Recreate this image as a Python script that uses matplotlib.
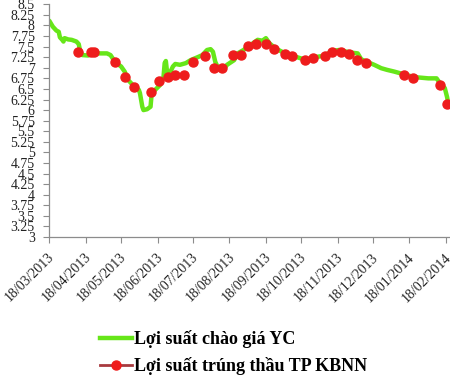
import matplotlib
matplotlib.use("Agg")
import matplotlib.pyplot as plt
import matplotlib.dates as mdates
import matplotlib.transforms as mtransforms
from matplotlib.lines import Line2D
import pandas as pd

# Green series: "Lợi suất chào giá YC"
yc_dates = ["2013-03-18", "2013-03-21", "2013-03-24", "2013-03-26", "2013-03-27", "2013-03-29",
            "2013-03-30", "2013-03-31", "2013-04-03", "2013-04-06", "2013-04-10", "2013-04-12",
            "2013-04-13", "2013-04-15", "2013-04-20", "2013-04-24", "2013-05-06", "2013-05-09",
            "2013-05-13", "2013-05-18", "2013-05-21", "2013-05-24", "2013-05-28", "2013-06-02",
            "2013-06-03", "2013-06-05", "2013-06-06", "2013-06-09", "2013-06-12", "2013-06-13",
            "2013-06-16", "2013-06-20", "2013-06-23", "2013-06-24", "2013-06-25", "2013-06-26",
            "2013-06-28", "2013-07-01", "2013-07-03", "2013-07-07", "2013-07-12", "2013-07-16",
            "2013-07-22", "2013-07-26", "2013-07-30", "2013-08-02", "2013-08-04", "2013-08-06",
            "2013-08-09", "2013-08-12", "2013-08-16", "2013-08-22", "2013-08-25", "2013-08-30",
            "2013-09-05", "2013-09-11", "2013-09-15", "2013-09-18", "2013-09-21", "2013-09-26",
            "2013-10-03", "2013-10-11", "2013-10-18", "2013-10-22", "2013-10-29", "2013-11-06",
            "2013-11-14", "2013-11-19", "2013-11-29", "2013-12-05", "2013-12-08", "2013-12-13",
            "2013-12-19", "2013-12-25", "2013-12-30", "2014-01-05", "2014-01-14", "2014-01-22",
            "2014-02-03", "2014-02-10", "2014-02-13", "2014-02-17", "2014-02-19", "2014-02-20"]
yc_values = [8.11, 7.97, 7.88, 7.85, 7.72, 7.66,
             7.62, 7.70, 7.67, 7.66, 7.62, 7.56,
             7.42, 7.30, 7.29, 7.34, 7.34, 7.30,
             7.13, 7.03, 6.91, 6.71, 6.59, 6.48,
             6.40, 6.08, 6.00, 6.02, 6.08, 6.40,
             6.48, 6.59, 6.78, 7.11, 7.16, 6.91,
             6.85, 7.03, 7.09, 7.07, 7.11, 7.18,
             7.25, 7.30, 7.42, 7.44, 7.38, 7.14,
             6.96, 6.93, 7.07, 7.18, 7.34, 7.42,
             7.54, 7.66, 7.64, 7.70, 7.58, 7.46,
             7.36, 7.28, 7.22, 7.18, 7.25, 7.28,
             7.40, 7.42, 7.36, 7.34, 7.20, 7.14,
             7.07, 6.99, 6.95, 6.91, 6.84, 6.78,
             6.75, 6.75, 6.63, 6.52, 6.30, 6.14]

# Red series: "Lợi suất trúng thầu TP KBNN"
kb_dates = ["2013-04-11", "2013-04-22", "2013-04-25", "2013-05-13", "2013-05-21", "2013-05-29",
            "2013-06-12", "2013-06-19", "2013-06-27", "2013-07-03", "2013-07-10", "2013-07-18",
            "2013-07-28", "2013-08-05", "2013-08-12", "2013-08-21", "2013-08-28", "2013-09-03",
            "2013-09-10", "2013-09-18", "2013-09-25", "2013-10-04", "2013-10-10", "2013-10-21",
            "2013-10-28", "2013-11-07", "2013-11-13", "2013-11-21", "2013-11-28", "2013-12-04",
            "2013-12-12", "2014-01-13", "2014-01-21", "2014-02-13", "2014-02-19"]
kb_values = [7.38, 7.38, 7.38, 7.13, 6.78, 6.55,
             6.42, 6.69, 6.78, 6.84, 6.84, 7.14,
             7.27, 7.00, 7.00, 7.30, 7.30, 7.52,
             7.56, 7.56, 7.45, 7.33, 7.27, 7.18,
             7.24, 7.28, 7.38, 7.37, 7.33, 7.18,
             7.11, 6.84, 6.76, 6.59, 6.14]

tick_dates = ["2013-03-18", "2013-04-18", "2013-05-18", "2013-06-18", "2013-07-18", "2013-08-18",
              "2013-09-18", "2013-10-18", "2013-11-18", "2013-12-18", "2014-01-18", "2014-02-18"]
y_ticks = [3 + 0.25 * i for i in range(23)]
y_labels = ["3", "3.25", "3.5", "3.75", "4", "4.25", "4.5", "4.75", "5", "5.25", "5.5", "5.75",
            "6", "6.25", "6.5", "6.75", "7", "7.25", "7.5", "7.75", "8", "8.25", "8.5"]

label_yc = "Lợi suất chào giá YC"
label_kb = "Lợi suất trúng thầu TP KBNN"

plt.rcParams['font.family'] = ['Liberation Serif', 'DejaVu Serif']

fig = plt.figure(figsize=(4.5, 3.75), dpi=100)
ax = fig.add_axes([0.1096, 0.368, 0.8904, 0.6205])

green = "#66e619"
red = "#ee1c1c"

ax.plot(pd.to_datetime(yc_dates), yc_values, color=green, lw=3.2, solid_joinstyle='round',
        solid_capstyle='round', zorder=2)
ax.plot(pd.to_datetime(kb_dates), kb_values, linestyle='none', marker='o', markersize=6.5,
        color=red, markeredgecolor=red, zorder=3)

ax.set_ylim(3, 8.5)
ax.set_yticks(y_ticks)
ax.set_yticklabels(y_labels)
ax.set_xlim(pd.Timestamp("2013-03-18"), pd.Timestamp("2014-02-21 10:00"))
ax.set_xticks(pd.to_datetime(tick_dates))
ax.xaxis.set_major_formatter(mdates.DateFormatter('%d/%m/%Y'))

for s in ['top', 'right']:
    ax.spines[s].set_visible(False)
for s in ['left', 'bottom']:
    ax.spines[s].set_color('#8c8c8c')
    ax.spines[s].set_linewidth(0.9)

ax.tick_params(axis='y', direction='out', length=4, color='#8c8c8c', labelsize=10, pad=6.5,
               labelcolor='#222222')
ax.tick_params(axis='x', direction='out', length=4, color='#8c8c8c', labelsize=10, pad=7,
               labelcolor='#222222')
shift = mtransforms.ScaledTranslation(3 / 100, -3 / 100, fig.dpi_scale_trans)
for lab in ax.get_xticklabels():
    lab.set_rotation(45)
    lab.set_ha('right')
    lab.set_va('center')
    lab.set_rotation_mode('anchor')
    lab.set_transform(lab.get_transform() + shift)

handles = [Line2D([], [], color=green, lw=3.2),
           Line2D([], [], color='#a83a3f', lw=2, marker='o', markersize=6.5,
                  markerfacecolor=red, markeredgecolor=red)]
fig.legend(handles, [label_yc, label_kb], loc='upper left', bbox_to_anchor=(0.222, 0.12),
           frameon=False, prop={'weight': 'bold', 'size': 13}, handlelength=1.8,
           handletextpad=0.1, labelspacing=0.5, borderaxespad=0, borderpad=0)

fig.savefig("out.png", dpi=100)
